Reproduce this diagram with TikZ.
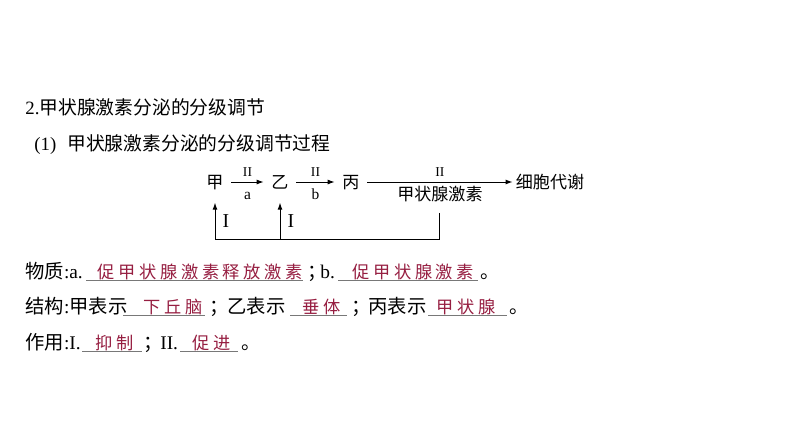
\documentclass[tikz,border=0pt]{standalone}
\usepackage{fontspec}
\setmainfont{Liberation Serif}
\newfontfamily\cjk{Noto Sans CJK SC}
\newfontfamily\anscjk[LetterSpace=21]{Noto Sans CJK SC}
\usetikzlibrary{arrows.meta,positioning}
\definecolor{ansred}{RGB}{150,30,65}
\definecolor{linegray}{RGB}{120,120,120}

\begin{document}
\begin{tikzpicture}[
    head/.style={anchor=base west, inner sep=0pt, font=\fontsize{10.7pt}{13pt}\selectfont},
    txt/.style={anchor=base west, inner sep=0pt, font=\fontsize{11pt}{13pt}\selectfont},
    ans/.style={anchor=base, inner sep=0pt, text=ansred, font=\fontsize{9.8pt}{11pt}\anscjk},
    uline/.style={draw=linegray, line width=0.02cm},
    stage/.style={inner xsep=0.15cm, inner ysep=0.23cm, text height=0.85em, text depth=0.15em, font=\fontsize{9.7pt}{11pt}\cjk},
    lab/.style={inner sep=0.04cm, text height=0.85em, text depth=0.15em, font=\fontsize{9.7pt}{11pt}\cjk},
    rmnum/.style={inner sep=0pt, font=\fontsize{7.7pt}{9pt}\selectfont},
    rmone/.style={inner sep=0pt, font=\fontsize{11.2pt}{13pt}\selectfont},
    arrsub/.style={inner sep=0pt, text height=0.7em, text depth=0pt, font=\fontsize{8.8pt}{10pt}\selectfont},
    link/.style={line width=0.02cm},
    arr/.style={line width=0.02cm, -{Latex[length=0.14cm,width=0.1cm]}}
  ]
  \useasboundingbox (0,0) rectangle (15.88,8.94);

  % Headings
  \node[head] (title) at (0.50,6.654) {2.{\cjk 甲状腺激素分泌的分级调节}};
  \node[head] (subnum) at (0.68,5.934) {(1)};
  \node[head] (subtitle) at (1.34,5.934) {\cjk 甲状腺激素分泌的分级调节过程};

  % Drawing stages
  \node[stage] (jia) at (4.30,5.30) {甲};
  \node[stage] (yi) at (5.60,5.30) {乙};
  \node[stage] (bing) at (7.02,5.30) {丙};
  \node[stage, inner xsep=0.06cm] (xbdx) at (11.00,5.30) {细胞代谢};

  % Drawing forward arrows
  \draw[arr] (jia) -- (yi) node[rmnum, midway, above=0.1cm] (ra) {II} node[arrsub, midway, below=0.1cm] (sa) {a};
  \draw[arr] (yi) -- (bing) node[rmnum, midway, above=0.1cm] (rb) {II} node[arrsub, midway, below=0.1cm] (sb) {b};
  \draw[arr] (bing) -- (xbdx) node[rmnum, midway, above=0.1cm] (rc) {II} node[lab, midway, below=0.015cm] (jsjs) {甲状腺激素};

  % Drawing feedback
  \coordinate (fb) at (4.30,4.16);
  \draw[link] ([yshift=-0.15cm]jsjs.south) -- (jsjs.south |- fb) -- (fb);
  \draw[arr] (fb) -- (jia.south) node[rmone, midway, right=0.14cm] (ia) {I};
  \draw[arr] (fb -| yi.south) -- (yi.south) node[rmone, midway, right=0.14cm] (ib) {I};

  % Row: substances
  \node[txt] (wz) at (0.50,3.38) {{\cjk 物质}:a.};
  \draw[uline] (1.72,3.34) -- (6.06,3.34);
  \node[ans] (wza) at (3.97,3.38) {促甲状腺激素释放激素\kern-.21em};
  \node[txt] (wzs) at (6.14,3.38) {\cjk ；};
  \node[txt] (wzb) at (6.40,3.38) {b.};
  \draw[uline] (6.76,3.34) -- (9.56,3.34);
  \node[ans] (wzbans) at (8.23,3.38) {促甲状腺激素\kern-.21em};
  \node[txt] (wze) at (9.60,3.38) {\cjk 。};

  % Row: structures
  \node[txt] (jg) at (0.50,2.67) {{\cjk 结构}:{\cjk 甲表示}};
  \draw[uline] (2.46,2.63) -- (4.10,2.63);
  \node[ans] (jga) at (3.42,2.67) {下丘脑\kern-.21em};
  \node[txt] (jgs1) at (4.18,2.67) {\cjk ；};
  \node[txt] (jgyi) at (4.54,2.67) {\cjk 乙表示};
  \draw[uline] (5.80,2.63) -- (6.94,2.63);
  \node[ans] (jgb) at (6.40,2.67) {垂体\kern-.21em};
  \node[txt] (jgs2) at (7.02,2.67) {\cjk ；};
  \node[txt] (jgbing) at (7.36,2.67) {\cjk 丙表示};
  \draw[uline] (8.56,2.63) -- (10.14,2.63);
  \node[ans] (jgc) at (9.29,2.67) {甲状腺\kern-.21em};
  \node[txt] (jge) at (10.18,2.67) {\cjk 。};

  % Row: effects
  \node[txt] (zy) at (0.50,1.96) {{\cjk 作用}:I.};
  \draw[uline] (1.64,1.92) -- (2.84,1.92);
  \node[ans] (zya) at (2.26,1.96) {抑制\kern-.21em};
  \node[txt] (zys) at (2.86,1.96) {\cjk ；};
  \node[txt] (zyb) at (3.20,1.96) {II.};
  \draw[uline] (3.60,1.92) -- (4.76,1.92);
  \node[ans] (zybans) at (4.20,1.96) {促进\kern-.21em};
  \node[txt] (zye) at (4.82,1.96) {\cjk 。};
\end{tikzpicture}
\end{document}
